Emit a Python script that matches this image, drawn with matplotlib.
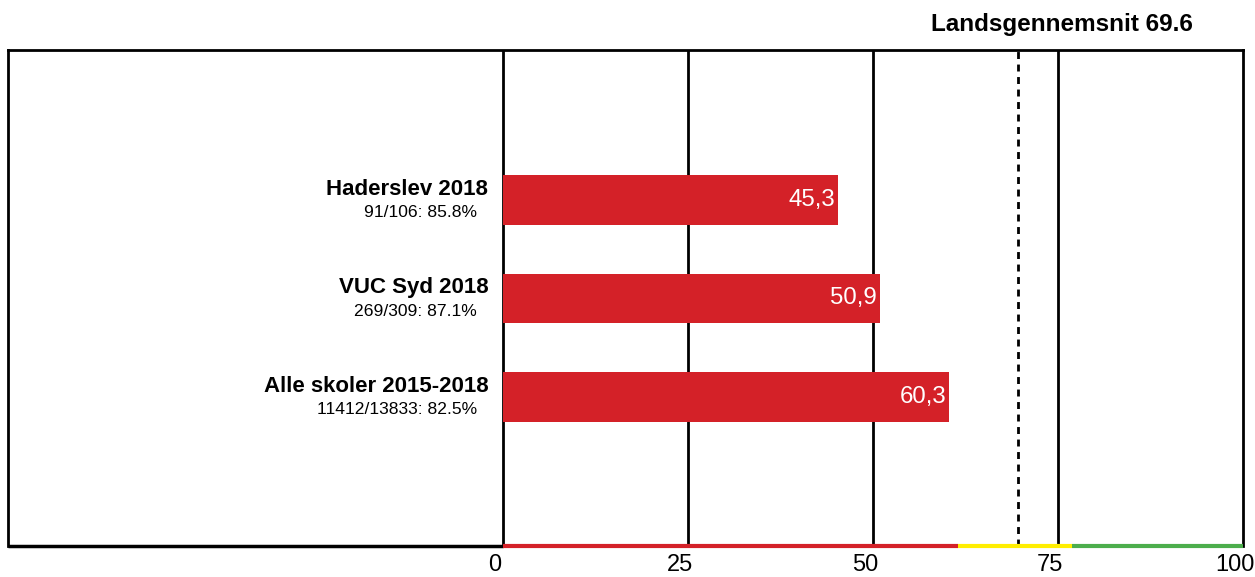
import matplotlib.pyplot as plt
from matplotlib.transforms import ScaledTranslation

plt.rcParams['font.family'] = ['Liberation Sans', 'DejaVu Sans']

# data
names = ['Haderslev 2018', 'VUC Syd 2018', 'Alle skoler 2015-2018']
details = ['91/106: 85.8%', '269/309: 87.1%', '11412/13833: 82.5%']
values = [45.3, 50.9, 60.3]
national_avg = 69.6
ticks = [0, 25, 50, 75, 100]
band_edges = [0, 61.5, 76.9, 100]
band_colors = ['#d42128', '#ffee00', '#4cae4c']
bar_color = '#d42128'

fig = plt.figure(figsize=(12.55, 5.77), dpi=100)
ax = fig.add_axes([8 / 1255, 31 / 577, 1235 / 1255, 496 / 577])

y = list(range(len(values)))
ax.barh(y, values, height=0.5, color=bar_color, zorder=3)

ax.set_xlim(-66.9, 100)
ax.set_ylim(3.513, -1.523)

# vertical grid lines
for t in ticks[:-1]:
    ax.axvline(t, color='black', lw=2, zorder=2)
ax.axvline(national_avg, color='black', lw=2, ls=(0, (2.5, 2)), zorder=2)

# labels
for i, (n, d, v) in enumerate(zip(names, details, values)):
    ax.text(-2.0, i - 0.11, n, ha='right', va='center', fontsize=16, fontweight='bold')
    ax.text(-3.5, i + 0.13, d, ha='right', va='center', fontsize=12.6)
    ax.text(v - 0.4, i, f'{v:.1f}'.replace('.', ','), ha='right', va='center',
            fontsize=17.3, color='white', zorder=4)

ax.text(75.5, -1.777, f'Landsgennemsnit {national_avg}', ha='center', va='center',
        fontsize=17.5, fontweight='bold', clip_on=False)

# frame
for s in ['top', 'left', 'right']:
    ax.spines[s].set_linewidth(2)
ax.spines['bottom'].set_visible(False)
ybot = ax.get_ylim()[0]
ax.plot([-66.9, 0], [ybot, ybot], color='black', lw=2.5, clip_on=False, zorder=5,
        solid_capstyle='butt')
for c, a, b in zip(band_colors, band_edges[:-1], band_edges[1:]):
    ax.plot([a, b], [ybot, ybot], color=c, lw=3, clip_on=False, zorder=5,
            solid_capstyle='butt')

ax.set_yticks([])
ax.set_xticks(ticks)
ax.set_xticklabels([str(t) for t in ticks], fontsize=17)
ax.tick_params(axis='x', length=0, pad=6)
offset = ScaledTranslation(-8 / 100, 0, fig.dpi_scale_trans)
for lbl in ax.get_xticklabels():
    lbl.set_transform(lbl.get_transform() + offset)

plt.savefig('out.png', dpi=100)
